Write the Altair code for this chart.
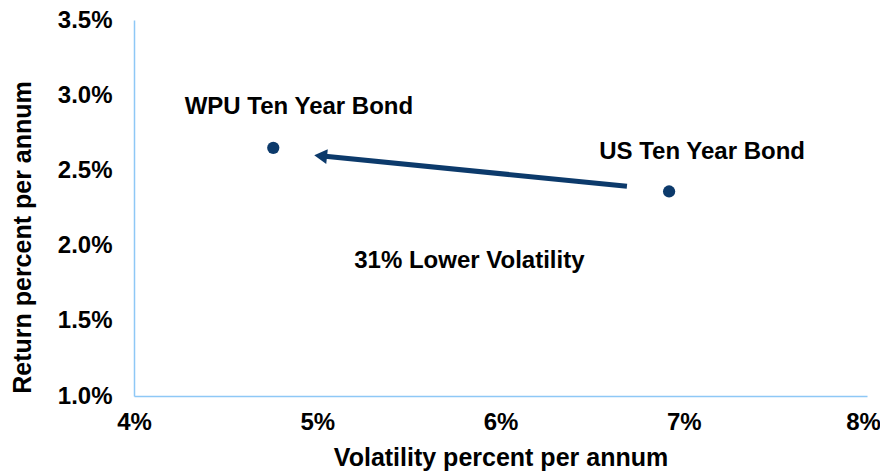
import altair as alt
import pandas as pd

names = ["WPU Ten Year Bond", "US Ten Year Bond"]
vol = [4.76, 6.92]
ret = [2.65, 2.36]

label_x = [4.9, 7.1]
label_y = [2.92, 2.62]

arrow_tail = [6.69, 2.395]
arrow_head = [5.03, 2.595]

note_text = ["31% Lower Volatility"]
note_x = [5.83]
note_y = [1.895]

x_ticks = [4, 5, 6, 7, 8]
y_ticks = [1.0, 1.5, 2.0, 2.5, 3.0, 3.5]

navy = "#0c3a6b"
font = "Liberation Sans"

pts = pd.DataFrame({"name": names, "vol": vol, "ret": ret})
labs = pd.DataFrame({"name": names, "x": label_x, "y": label_y})
arr = pd.DataFrame({"x": [arrow_tail[0]], "y": [arrow_tail[1]],
                    "x2": [arrow_head[0]], "y2": [arrow_head[1]]})
head = pd.DataFrame({"x": [arrow_head[0]], "y": [arrow_head[1]]})
note = pd.DataFrame({"t": note_text, "x": note_x, "y": note_y})

xs = alt.Scale(domain=[4, 8], nice=False, zero=False)
ys = alt.Scale(domain=[1.0, 3.5], nice=False, zero=False)

xaxis = alt.Axis(values=x_ticks, labelExpr="datum.value + '%'", title="Volatility percent per annum",
                 grid=False, ticks=False, domainColor="#8ec8f6", domainWidth=1.5,
                 labelFlush=False, labelOverlap=False,
                 labelOffset={"condition": {"test": "datum.value == 8", "value": -4}, "value": 0},
                 labelFont=font, labelFontSize=24, labelFontWeight="bold", labelColor="black",
                 labelPadding=14, titleFont=font, titleFontSize=25, titleFontWeight="bold",
                 titleColor="black", titlePadding=11)
yaxis = alt.Axis(values=y_ticks, labelExpr="format(datum.value, '.1f') + '%'",
                 title="Return percent per annum", labelFlush=False, labelOverlap=False,
                 grid=False, ticks=False, domainColor="#8ec8f6", domainWidth=1.5,
                 labelFont=font, labelFontSize=24, labelFontWeight="bold", labelColor="black",
                 labelPadding=22, titleFont=font, titleFontSize=25, titleFontWeight="bold",
                 titleColor="black", titlePadding=22, titleY=217)

points = alt.Chart(pts).mark_circle(size=150, color=navy, opacity=1).encode(
    x=alt.X("vol:Q", scale=xs, axis=xaxis),
    y=alt.Y("ret:Q", scale=ys, axis=yaxis),
)

labels = alt.Chart(labs).mark_text(font=font, fontSize=24, fontWeight="bold", color="black").encode(
    x=alt.X("x:Q", scale=xs), y=alt.Y("y:Q", scale=ys), text="name:N")

line = alt.Chart(arr).mark_rule(color=navy, strokeWidth=5).encode(
    x=alt.X("x:Q", scale=xs), y=alt.Y("y:Q", scale=ys),
    x2="x2:Q", y2="y2:Q")

arrowhead = alt.Chart(head).mark_point(shape="triangle", filled=True, size=220, color=navy,
                                       opacity=1, angle=276).encode(
    x=alt.X("x:Q", scale=xs), y=alt.Y("y:Q", scale=ys))

notes = alt.Chart(note).mark_text(font=font, fontSize=24, fontWeight="bold", color="black").encode(
    x=alt.X("x:Q", scale=xs), y=alt.Y("y:Q", scale=ys), text="t:N")

chart = alt.layer(line, arrowhead, points, labels, notes).properties(
    width=733, height=376,
    autosize=alt.AutoSizeParams(type="none"),
    padding={"left": 126, "top": 12, "right": 13, "bottom": 78},
).configure_view(stroke=None)

chart.save("out.html", embed_options={"renderer": "svg", "actions": False})
